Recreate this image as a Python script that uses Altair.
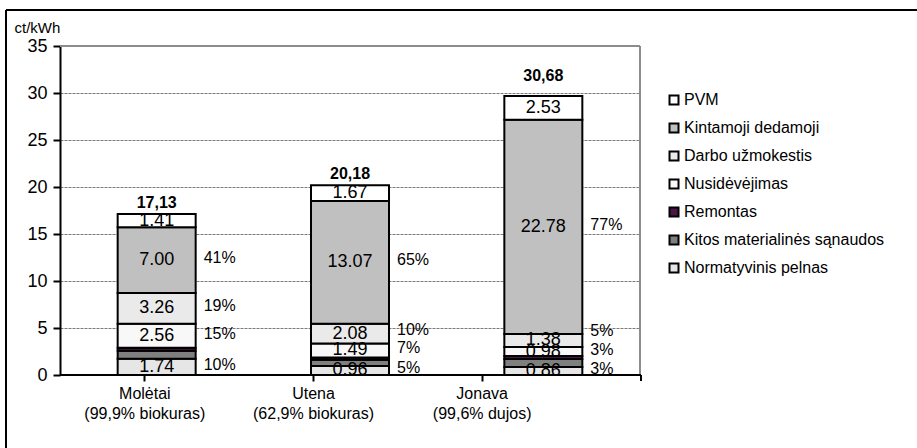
import altair as alt
import pandas as pd

# Heat price components (ct/kWh) for three district heating systems
categories = ["Molėtai", "Utena", "Jonava"]
fuel_notes = ["(99,9% biokuras)", "(62,9% biokuras)", "(99,6% dujos)"]

components = [
    "PVM",
    "Kintamoji dedamoji",
    "Darbo užmokestis",
    "Nusidėvėjimas",
    "Remontas",
    "Kitos materialinės sąnaudos",
    "Normatyvinis pelnas",
]
component_colors = ["#ffffff", "#c0c0c0", "#eaeaea", "#f8f8f8", "#4a1646", "#7f7f7f", "#e6e6e6"]

# values ordered like `components`
values_moletai = [1.41, 7.00, 3.26, 2.56, 0.32, 0.84, 1.74]
values_utena = [1.67, 13.07, 2.08, 1.49, 0.25, 0.66, 0.96]
values_jonava = [2.53, 22.78, 1.38, 0.98, 0.30, 0.85, 0.86]

share_moletai = ["", "41%", "19%", "15%", "", "", "10%"]
share_utena = ["", "65%", "10%", "7%", "", "", "5%"]
share_jonava = ["", "77%", "5%", "3%", "", "", "3%"]

show_value = [True, True, True, True, False, False, True]
totals = [17.13, 20.18, 30.68]

y_ticks = [0, 5, 10, 15, 20, 25, 30, 35]

W, H = 580, 329
FONT = "Liberation Sans"
MIN_LABEL_GAP = 2.0  # minimum spacing of share labels, in ct/kWh

rows = []
for cat, vals, shares in zip(categories,
                             [values_moletai, values_utena, values_jonava],
                             [share_moletai, share_utena, share_jonava]):
    n = len(components)
    base = 0.0
    prev_label = None
    cat_rows = []
    # walk the stack from the bottom segment upwards
    for i in reversed(range(n)):
        v = vals[i]
        mid = base + v / 2
        label_y = mid
        if shares[i]:
            if prev_label is not None:
                label_y = max(mid, prev_label + MIN_LABEL_GAP)
            prev_label = label_y
        cat_rows.append({"cat": cat, "comp": components[i], "value": v, "rank": n - 1 - i,
                         "mid": mid, "share": shares[i], "share_y": label_y, "show": show_value[i]})
        base += v
    rows.extend(cat_rows)
df = pd.DataFrame(rows)

totals_df = pd.DataFrame({"cat": categories, "total": totals})
axis_df = pd.DataFrame({"label": [f"{c}\n{n}" for c, n in zip(categories, fuel_notes)]})

x_bars = alt.X("cat:N", scale=alt.Scale(domain=categories, paddingInner=0, paddingOuter=0), axis=None)
y_scale = alt.Scale(domain=[0, 35], nice=False, zero=True)

# one shared y axis definition for every layer that uses the y scale
y_axis = alt.Axis(
    values=y_ticks,
    grid=True,
    gridColor="#7a7a7a",
    gridDash=[3, 1],
    gridWidth=1,
    domainColor="black",
    domainWidth=2,
    tickColor="black",
    tickWidth=2,
    tickSize=7,
    labelFontSize=18,
    labelColor="black",
    labelPadding=6,
    title="ct/kWh",
    titleAngle=0,
    titleX=-46,
    titleY=-14,
    titleAlign="left",
    titleBaseline="alphabetic",
    titleFontWeight="normal",
    titleFontSize=15,
    titleColor="black",
)

bars = alt.Chart(df).mark_bar(width=78, stroke="black", strokeWidth=2).encode(
    x=x_bars,
    y=alt.Y("value:Q", stack="zero", scale=y_scale, axis=y_axis),
    color=alt.Color(
        "comp:N",
        scale=alt.Scale(domain=components, range=component_colors),
        legend=alt.Legend(
            title=None,
            orient="none",
            legendX=606,
            legendY=46,
            symbolType="square",
            symbolSize=81,
            symbolStrokeColor="black",
            symbolStrokeWidth=2,
            symbolOpacity=1,
            labelFontSize=16,
            labelColor="black",
            labelOffset=2,
            rowPadding=10,
            labelLimit=400,
        ),
    ),
    order=alt.Order("rank:Q", sort="ascending"),
)

value_text = alt.Chart(df).transform_filter("datum.show").mark_text(
    fontSize=18, color="black", baseline="middle"
).encode(
    x=x_bars,
    y=alt.Y("mid:Q", scale=y_scale, axis=y_axis),
    text=alt.Text("value:Q", format=".2f"),
)

share_text = alt.Chart(df).transform_filter("datum.share != ''").mark_text(
    fontSize=16, color="black", align="left", baseline="middle", dx=47, dy=-2
).encode(
    x=x_bars,
    y=alt.Y("share_y:Q", scale=y_scale, axis=y_axis),
    text="share:N",
)

total_text = alt.Chart(totals_df).transform_calculate(
    lab="replace(format(datum.total, '.2f'), '.', ',')"
).mark_text(fontSize=16, fontWeight="bold", color="black", baseline="alphabetic", dy=-6).encode(
    x=x_bars,
    y=alt.Y("total:Q", scale=y_scale, axis=y_axis),
    text="lab:N",
)

# category axis (ticks between categories, labels on two lines)
cat_axis = alt.Chart(axis_df).mark_text(text="", opacity=0).encode(
    x=alt.X(
        "label:N",
        scale=alt.Scale(domain=list(axis_df["label"]), range=[0, 506], paddingInner=0, paddingOuter=0),
        axis=alt.Axis(
            orient="bottom",
            title=None,
            domain=False,
            bandPosition=1,
            ticks=True,
            tickColor="black",
            tickWidth=2,
            tickSize=6,
            labelAngle=0,
            labelExpr="split(datum.label, '\\n')",
            labelFontSize=16,
            labelColor="black",
            labelPadding=4,
            labelLineHeight=20,
            labelLimit=400,
            labelOverlap=False,
            grid=False,
        ),
    ),
)

# plot-area frame and baseline
frame_top = alt.Chart(totals_df).mark_rule(color="#8c8c8c", strokeWidth=2).encode(
    x=alt.value(0), x2=alt.value(W), y=alt.value(0)
)
frame_right = alt.Chart(totals_df).mark_rule(color="#8c8c8c", strokeWidth=2).encode(
    x=alt.value(W), y=alt.value(0), y2=alt.value(H)
)
baseline = alt.Chart(totals_df).mark_rule(color="black", strokeWidth=2).encode(
    x=alt.value(0), x2=alt.value(W + 1), y=alt.value(H)
)
end_tick = alt.Chart(totals_df).mark_rule(color="black", strokeWidth=2).encode(
    x=alt.value(W + 1), y=alt.value(H), y2=alt.value(H + 6)
)

# outer chart border
outer_top = alt.Chart(totals_df).mark_rule(color="black", strokeWidth=2).encode(
    x=alt.value(-54), x2=alt.value(W + 290), y=alt.value(-36)
)
outer_left = alt.Chart(totals_df).mark_rule(color="black", strokeWidth=2).encode(
    x=alt.value(-54), y=alt.value(-36), y2=alt.value(H + 80)
)

chart = alt.layer(
    frame_top, frame_right, bars, value_text, share_text, total_text,
    baseline, end_tick, cat_axis, outer_top, outer_left,
).resolve_scale(x="independent").properties(
    width=W,
    height=H,
    autosize=alt.AutoSizeParams(type="none"),
    padding={"left": 60, "top": 46, "right": 917 - 60 - W, "bottom": 448 - 46 - H},
).configure(font=FONT).configure_view(stroke=None)

chart.save("out.html", embed_options={"renderer": "svg", "actions": False})
